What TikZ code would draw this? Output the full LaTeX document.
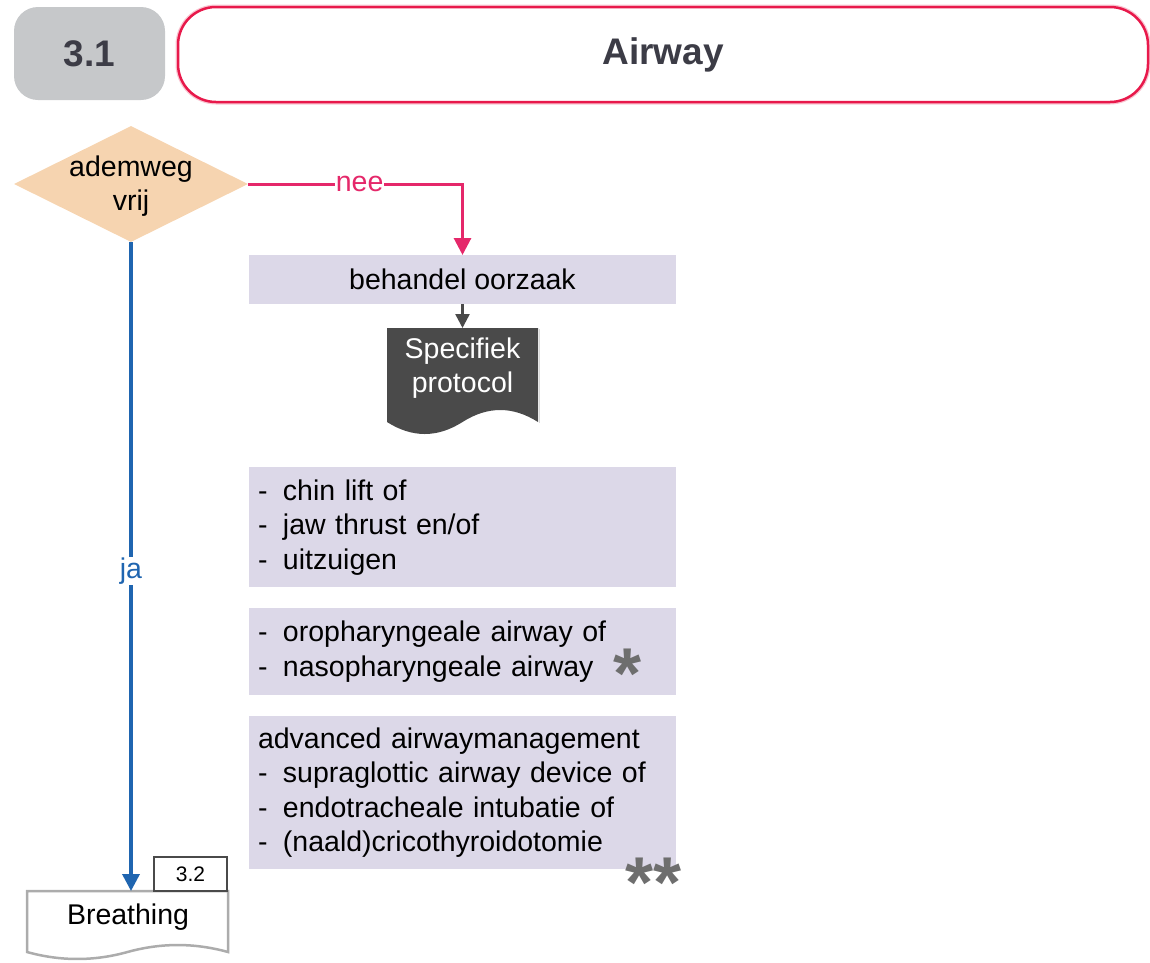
\documentclass[tikz,border=0pt]{standalone}
\usepackage{fontspec}
\setmainfont{Liberation Sans}
\usetikzlibrary{shapes.geometric,arrows.meta}
\definecolor{myred}{HTML}{E8194B}
\definecolor{myline}{HTML}{E5286A}
\definecolor{myblue}{HTML}{1F65B0}
\definecolor{mypeach}{HTML}{F6D4B0}
\definecolor{mylav}{HTML}{DCD8E8}
\definecolor{mygrey}{HTML}{C6C8CA}
\definecolor{mydark}{HTML}{4A4A4A}
\definecolor{mytitle}{HTML}{3C3C46}
\definecolor{mystar}{HTML}{6E6E6E}
\newcommand{\li}{\makebox[25pt][l]{-}}
\newcommand{\starfnt}{\fontsize{72}{72}\selectfont\bfseries\color{mystar}}
\begin{document}
\begin{tikzpicture}[x=1pt,y=-1pt,
  body/.style={font=\fontsize{28.5}{34.5}\selectfont, text=black},
  lbox/.style={fill=mylav, minimum width=427, inner xsep=9, text width=409, align=left, body, anchor=north},
  headtxt/.style={font=\fontsize{37}{40}\selectfont\bfseries, text=mytitle},
  dia/.style={diamond, fill=mypeach, minimum width=234, minimum height=116, aspect=2, inner sep=0},
  tip/.style={-{Triangle[width=17pt,length=17pt]}},
  startxt/.style={font=\starfnt, inner sep=0, anchor=base}
]
\useasboundingbox (0,0) rectangle (1150,962);
% header
\node[fill=mygrey, rounded corners=24, minimum width=151, minimum height=93, headtxt] (num) at (89.5,53.5) {3.1};
\draw[myred!25, line width=5, rounded corners=38] (178,7) rectangle (1148,102);
\node[draw=myred, line width=2.5, fill=white, rounded corners=38, minimum width=970, minimum height=95, headtxt] (title) at (663,54.5) {Airway};
% decision
\node[dia] (dec) at (131,184) {};
\node[body, align=center] (dectxt) at (131,186) {ademweg\\vrij};
% boxes
\node[fill=mylav, minimum width=427, minimum height=49, body, anchor=north] (treat) at (462.5,255) {behandel oorzaak};
\node[lbox, minimum height=120] (b1) at (462.5,467) {\li chin lift of\\ \li jaw thrust en/of\\ \li uitzuigen};
\node[lbox, minimum height=87] (b2) at (462.5,608) {\li oropharyngeale airway of\\ \li nasopharyngeale airway\hspace{20pt}\raisebox{-22pt}[0pt][0pt]{\starfnt *}};
\node[lbox, minimum height=153] (b3) at (462.5,716) {advanced airwaymanagement\\ \li supraglottic airway device of\\ \li endotracheale intubatie of\\ \li (naald)cricothyroidotomie};
\node[startxt] (s2) at (654,907) {\raisebox{0pt}[0pt][0pt]{**}};
% specifiek protocol document
\node[minimum width=151, minimum height=90, inner sep=0, anchor=north] (spec) at (462.5,328) {};
\fill[mydark] (387,328) -- (538,328) -- (538,422)
  .. controls (512.8,406) and (487.7,406) .. (462.5,422)
  .. controls (437.3,438) and (412.2,438) .. (387,422) -- cycle;
\draw[gray!30, line width=1.5] (539.5,329) -- (539.5,423);
\node[body, text=white, align=center] (spectxt) at (462.5,368) {Specifiek\\protocol};
% breathing document
\node[minimum width=201, minimum height=55, inner sep=0, anchor=north] (breath) at (127.5,891) {};
\draw[gray!65, line width=2.5, fill=white] (27,891) -- (228,891) -- (228,952)
  .. controls (194.5,942.7) and (161,942.7) .. (127.5,952)
  .. controls (94,961.3) and (60.5,961.3) .. (27,952) -- cycle;
\node[body] (breathtxt) at (128,917) {Breathing};
\node[draw=mydark, line width=2.5, fill=white, minimum width=73, minimum height=34, inner sep=0,
  font=\fontsize{21}{24}\selectfont] (ref) at (190.5,874) {3.2};
% connectors
\draw[myline, line width=3, tip] (dec.east) -| node[pos=0.26, fill=white, inner sep=1, body, text=myline] {nee} (treat.north);
\draw[myblue, line width=3.5, tip] (dec.south) -- (dec.south |- breath.north)
  node[pos=0.507, fill=white, inner sep=1, body, text=myblue] {ja};
\draw[mydark, line width=2.5, -{Triangle[width=14pt,length=14pt]}] (treat.south) -- (spec.north);
\end{tikzpicture}
\end{document}
